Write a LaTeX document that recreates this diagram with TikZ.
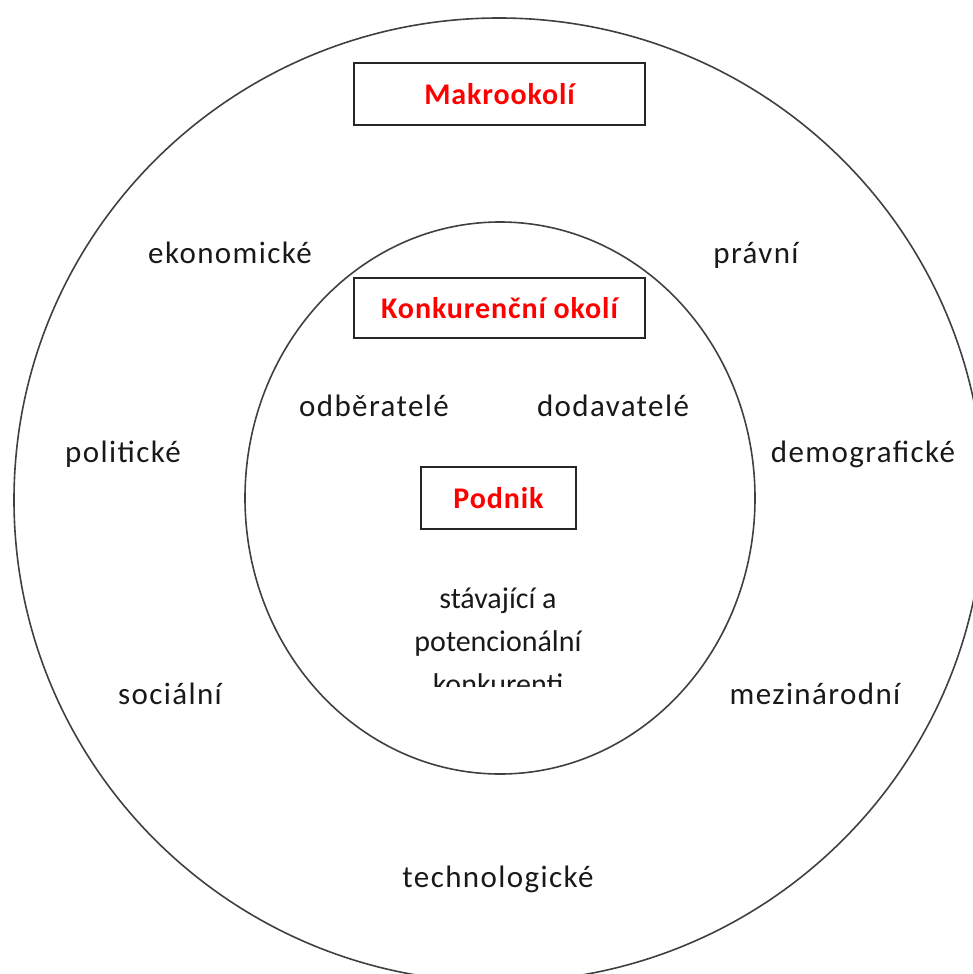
\documentclass[tikz,border=0pt]{standalone}
\usepackage{fontspec}
\setmainfont{Carlito}
\newfontfamily\factorfont[LetterSpace=4.5]{Carlito}
\newfontfamily\headfont[LetterSpace=3]{Carlito}
\begin{document}
\begin{tikzpicture}[x=1pt,y=-1pt,
  ring/.style={draw=black!75, line width=1.6pt},
  titlebox/.style={draw=black!85, line width=2pt, fill=white, inner sep=0pt,
    text=red, font=\headfont\fontsize{30}{36}\selectfont\bfseries},
  factor/.style={anchor=base, inner sep=0pt, text=black!90,
    font=\factorfont\fontsize{31}{37}\selectfont},
  rivals/.style={anchor=base, inner sep=0pt, text=black!90,
    font=\fontsize{30}{36}\selectfont}]
\useasboundingbox (0,0) rectangle (973,974);
\clip (0,0) rectangle (973,974);
% outer ring: macro environment, inner ring: competitive environment
\draw[ring] (499,500) ellipse [x radius=485pt, y radius=482pt];
\draw[ring] (500,498) ellipse [x radius=255pt, y radius=276pt];

% headings in boxes
\node[titlebox, minimum width=291pt, minimum height=62pt] (makro) at (499.5,94) {Makrookolí};
\node[titlebox, minimum width=291pt, minimum height=60pt] (konk) at (499.5,308) {Konkurenční okolí};
\node[titlebox, minimum width=155pt, minimum height=62pt] (podnik) at (498.5,498) {Podnik};

% macro-environment factors
\node[factor] (ekon) at (230,263) {ekonomické};
\node[factor] (prav) at (756,263) {právní};
\node[factor] (polit) at (123,462) {politické};
\node[factor] (demo) at (863,462) {demografické};
\node[factor] (soc) at (170,704) {sociální};
\node[factor] (mezi) at (815,704) {mezinárodní};
\node[factor] (tech) at (498,887) {technologické};

% competitive-environment factors
\node[factor] (odb) at (374,416) {odběratelé};
\node[factor] (dod) at (613,416) {dodavatelé};
\begin{scope}
  \clip (380,560) rectangle (620,686);
  \node[rivals] (stav) at (498,608) {stávající a};
  \node[rivals] (pot) at (498,651) {potencionální};
  \node[rivals] (konkur) at (498,694) {konkurenti};
\end{scope}
\end{tikzpicture}
\end{document}
